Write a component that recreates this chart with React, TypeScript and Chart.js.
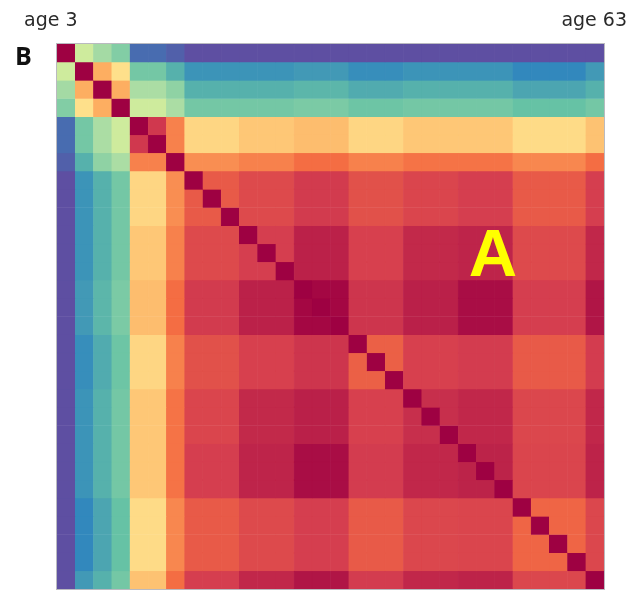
import React, { useEffect, useRef } from "react";
import { Chart, registerables } from "chart.js";

Chart.register(...registerables);

// 30 age bins, from "age 3" to "age 63"
const AGES = [3, 5, 7, 9, 11, 13, 15, 17, 19, 21, 23, 25, 27, 29, 31, 33, 35, 37, 39, 41, 43, 45, 47, 49, 51, 53, 55, 57, 59, 63];

// Which block (cluster) each age bin belongs to
const CELL_GROUP = [0, 1, 2, 3, 4, 4, 5, 6, 6, 6, 7, 7, 7, 8, 8, 8, 9, 9, 9, 10, 10, 10, 11, 11, 11, 12, 12, 12, 12, 13];

// Block-level similarity (upper triangle, row g starts at column g)
const G0 = [1.0, 0.36, 0.29, 0.24, 0.05, 0.03, 0.0, 0.0, 0.0, 0.0, 0.0, 0.0, 0.0, 0.0];
const G1 = [1.0, 0.7, 0.6, 0.22, 0.17, 0.12, 0.12, 0.13, 0.11, 0.12, 0.12, 0.1, 0.13];
const G2 = [1.0, 0.7, 0.3, 0.26, 0.17, 0.17, 0.18, 0.16, 0.17, 0.17, 0.15, 0.17];
const G3 = [1.0, 0.36, 0.3, 0.22, 0.22, 0.23, 0.21, 0.22, 0.22, 0.2, 0.22];
const G4 = [0.91, 0.77, 0.62, 0.65, 0.67, 0.62, 0.65, 0.65, 0.61, 0.66];
const G5 = [1.0, 0.75, 0.77, 0.8, 0.77, 0.79, 0.79, 0.76, 0.8];
const G6 = [0.84, 0.875, 0.905, 0.86, 0.885, 0.9, 0.84, 0.9];
const G7 = [0.9, 0.947, 0.895, 0.935, 0.942, 0.875, 0.937];
const G8 = [0.99, 0.915, 0.95, 0.98, 0.9, 0.967];
const G9 = [0.828, 0.895, 0.903, 0.84, 0.903];
const G10 = [0.925, 0.937, 0.88, 0.937];
const G11 = [0.945, 0.885, 0.944];
const G12 = [0.817, 0.88];
const G13 = [1.0];
const GROUP_VALUES = [G0, G1, G2, G3, G4, G5, G6, G7, G8, G9, G10, G11, G12, G13];

const LABEL_LEFT = "age 3";
const LABEL_RIGHT = "age 63";
const PANEL_LETTER = "B";
const BLOCK_LETTER = "A";

const SPECTRAL = [
  "#9e0142", "#d53e4f", "#f46d43", "#fdae61", "#fee08b", "#ffffbf",
  "#e6f598", "#abdda4", "#66c2a5", "#3288bd", "#5e4fa2",
];

function hexToRgb(h: string): number[] {
  const n = parseInt(h.slice(1), 16);
  return [(n >> 16) & 255, (n >> 8) & 255, n & 255];
}

function colorFor(v: number): string {
  const t = Math.min(1, Math.max(0, 1 - v)) * 10;
  const i = Math.min(9, Math.floor(t));
  const f = t - i;
  const a = hexToRgb(SPECTRAL[i]);
  const b = hexToRgb(SPECTRAL[i + 1]);
  const c = a.map((x, k) => Math.round(x + (b[k] - x) * f));
  return `rgb(${c[0]},${c[1]},${c[2]})`;
}

function cellValue(i: number, j: number): number {
  if (i === j) return 1;
  const gi = CELL_GROUP[i];
  const gj = CELL_GROUP[j];
  const a = Math.min(gi, gj);
  const b = Math.max(gi, gj);
  return GROUP_VALUES[a][b - a];
}

const overlayPlugin = {
  id: "overlayText",
  afterDraw(chart: any) {
    const { ctx, chartArea } = chart;
    ctx.save();
    ctx.strokeStyle = "rgba(140,140,150,0.6)";
    ctx.lineWidth = 1;
    ctx.strokeRect(chartArea.left - 0.5, chartArea.top - 0.5, chartArea.right - chartArea.left + 1, chartArea.bottom - chartArea.top + 1);

    ctx.fillStyle = "#2a2a2a";
    ctx.textBaseline = "alphabetic";
    ctx.font = "19px 'DejaVu Sans'";
    ctx.textAlign = "left";
    ctx.fillText(LABEL_LEFT, 24, 26);
    ctx.textAlign = "right";
    ctx.fillText(LABEL_RIGHT, 627, 26);

    ctx.fillStyle = "#111111";
    ctx.font = "bold 25px 'Open Sans'";
    ctx.textAlign = "left";
    ctx.fillText(PANEL_LETTER, 15, 65);

    ctx.fillStyle = "#ffff00";
    ctx.font = "bold 67px 'Liberation Sans'";
    ctx.textAlign = "center";
    ctx.fillText(BLOCK_LETTER, 493, 276);
    ctx.restore();
  },
};

export default function App() {
  const ref = useRef<HTMLCanvasElement | null>(null);

  useEffect(() => {
    if (!ref.current) return;
    const datasets = AGES.map((age, row) => ({
      label: `age ${age}`,
      data: AGES.map(() => [row, row + 1]),
      backgroundColor: AGES.map((_, col) => colorFor(cellValue(row, col))),
      borderColor: AGES.map((_, col) => colorFor(cellValue(row, col))),
      borderWidth: 0.4,
      borderSkipped: false,
      grouped: false,
      barPercentage: 1,
      categoryPercentage: 1,
    }));
    const chart = new Chart(ref.current, {
      type: "bar",
      data: { labels: AGES.map((a) => String(a)), datasets: datasets as any },
      options: {
        animation: false,
        responsive: true,
        maintainAspectRatio: false,
        events: [],
        layout: { padding: { left: 57, top: 44, right: 29, bottom: 1 } },
        plugins: { legend: { display: false }, tooltip: { enabled: false }, title: { display: false } },
        scales: {
          x: { type: "category", display: false, offset: true },
          y: { type: "linear", display: false, min: 0, max: AGES.length, reverse: true },
        },
      },
      plugins: [overlayPlugin],
    });
    return () => chart.destroy();
  }, []);

  return (
    <div style={{ position: "fixed", left: 0, top: 0, width: 633, height: 590, background: "#ffffff" }}>
      <canvas ref={ref} />
    </div>
  );
}
